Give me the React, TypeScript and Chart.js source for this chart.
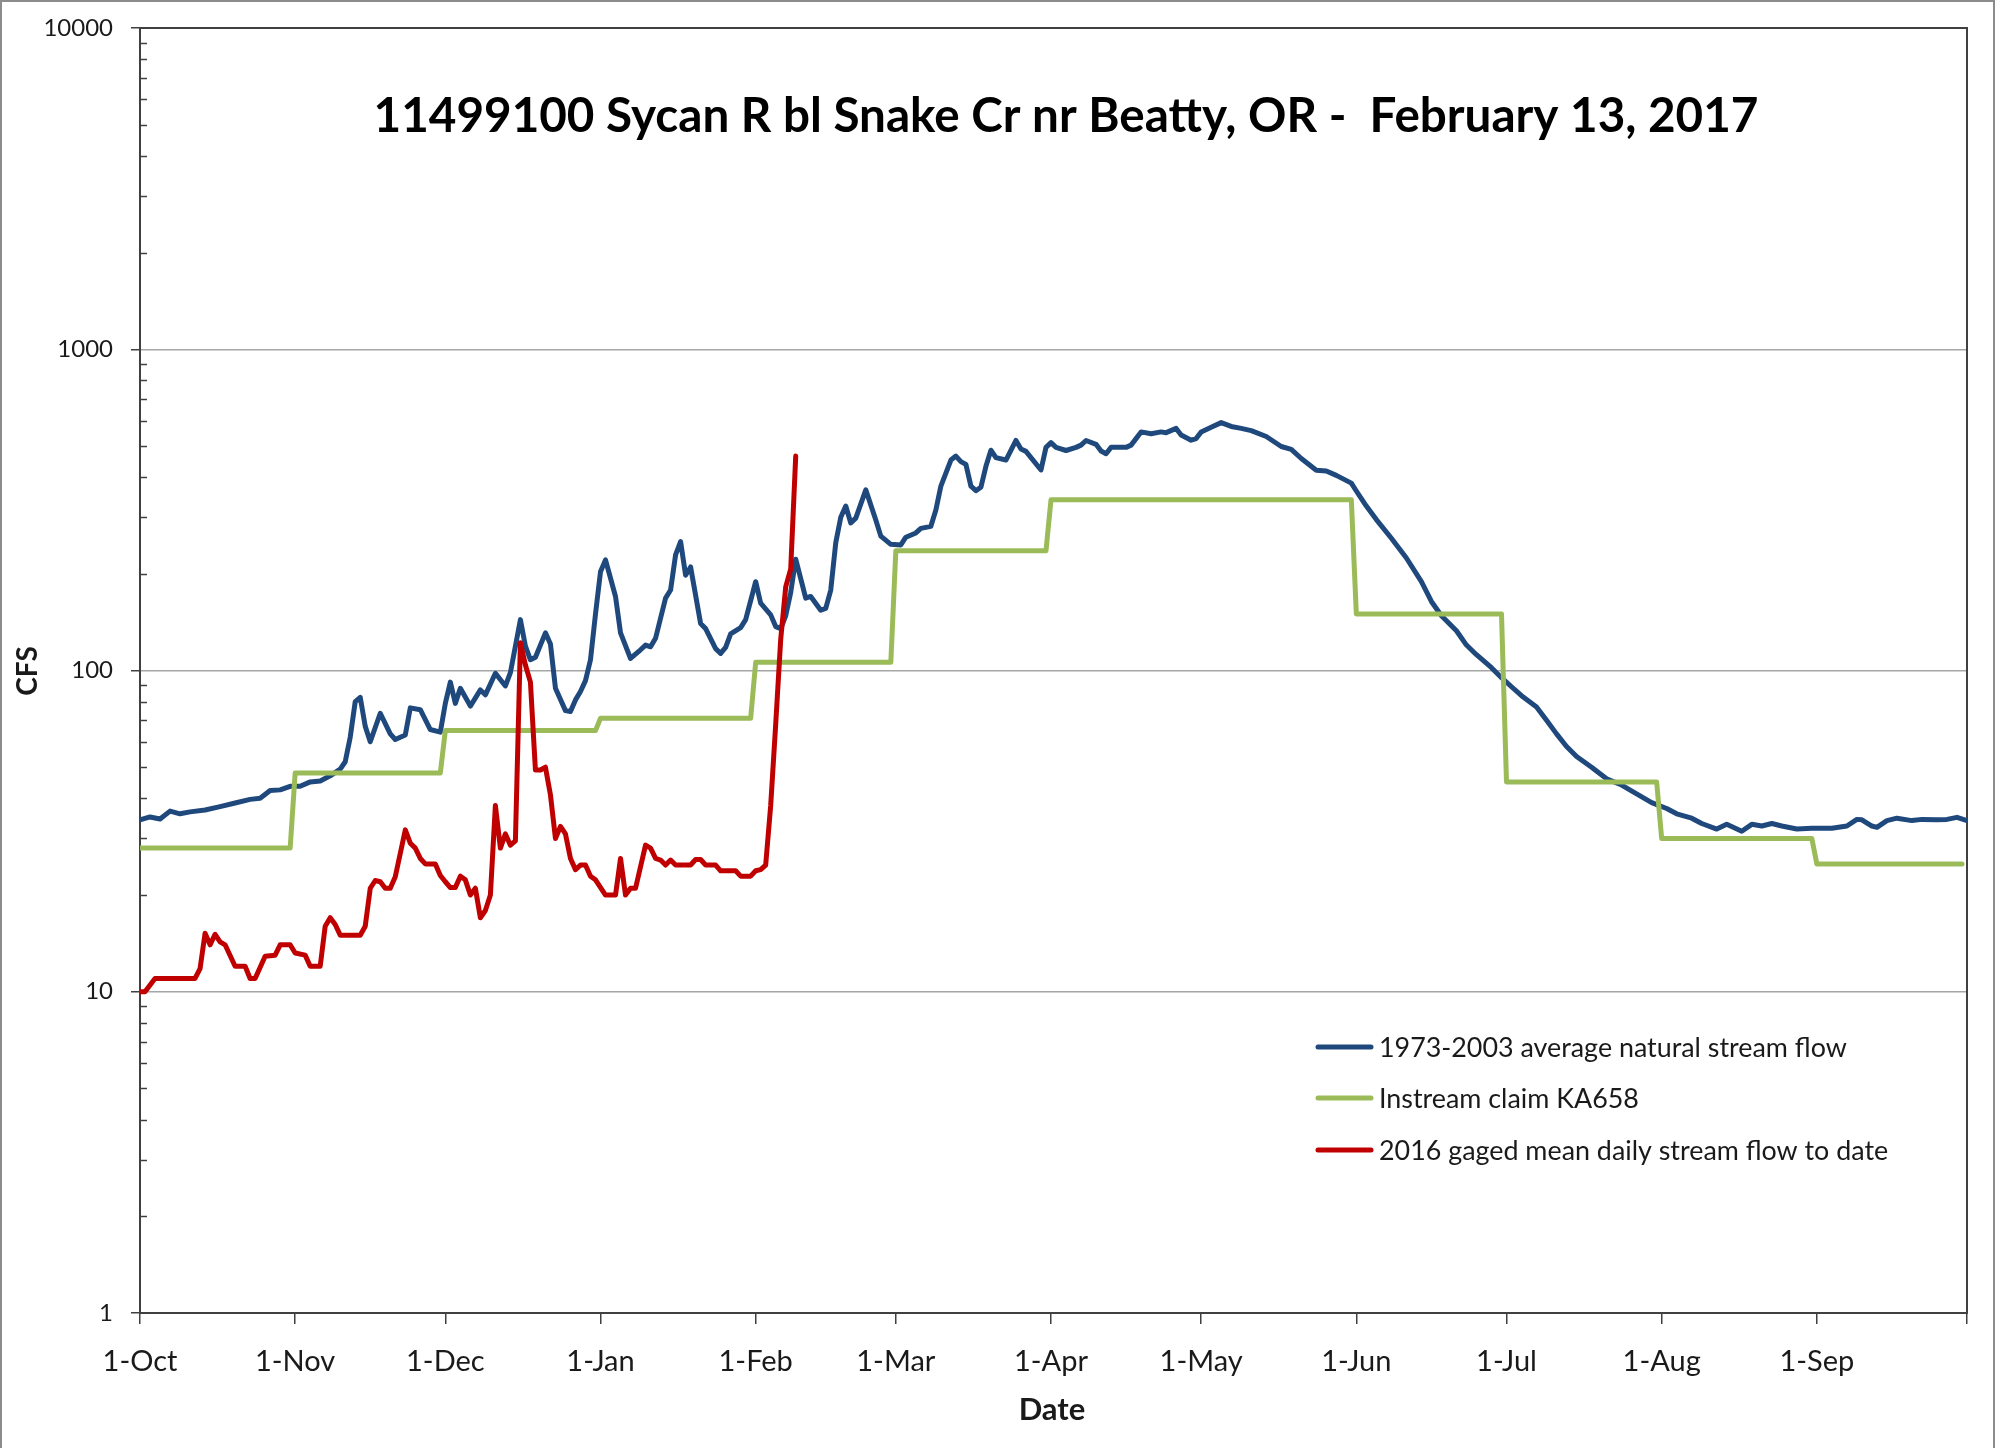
import React, { useEffect, useRef } from 'react';
import { Chart, registerables } from 'chart.js';

Chart.register(...registerables);

const TITLE = '11499100 Sycan R bl Snake Cr nr Beatty, OR -  February 13, 2017';
const X_TITLE = 'Date';
const Y_TITLE = 'CFS';

// x axis: day offset from 1-Oct
const monthTickDays = [0, 31, 61, 92, 123, 151, 182, 212, 243, 273, 304, 335, 365];
const xTickLabels = ['1-Oct', '1-Nov', '1-Dec', '1-Jan', '1-Feb', '1-Mar', '1-Apr', '1-May', '1-Jun', '1-Jul', '1-Aug', '1-Sep'];
const yMajorTicks = [1, 10, 100, 1000, 10000];
const yTickLabels = ['1', '10', '100', '1000', '10000'];

const seriesLabels = [
  '1973-2003 average natural stream flow',
  'Instream claim KA658',
  '2016 gaged mean daily stream flow to date',
];
const seriesColors = ['#1F497D', '#9BBB59', '#C00000'];

// 1973-2003 average natural stream flow
const naturalDays = [
  0, 2, 4, 6, 8, 10, 13, 16, 19, 22, 24, 26, 28, 30, 32, 34, 36, 38, 40, 41,
  42, 43, 44, 45, 46, 48, 50, 51, 53, 54, 56, 58, 60, 61, 62, 63, 64, 66, 68, 69,
  71, 73, 74, 76, 77, 78, 79, 81, 82, 83, 85, 86, 87, 88, 89, 90, 91, 92, 93, 95,
  96, 98, 100, 101, 102, 103, 105, 106, 107, 108, 109, 110, 112, 113, 115, 116, 117, 118, 120, 121,
  123, 124, 126, 127, 128, 129, 130, 131, 133, 134, 136, 137, 138, 139, 140, 141, 142, 143, 145, 147,
  148, 150, 152, 153, 155, 156, 158, 159, 160, 162, 163, 164, 165, 166, 167, 168, 169, 170, 171, 173,
  175, 176, 177, 180, 181, 182, 183, 185, 187, 188, 189, 191, 192, 193, 194, 197, 198, 200, 202, 204,
  205, 207, 208, 210, 211, 212, 214, 216, 218, 220, 222, 225, 228, 230, 232, 235, 237, 239, 242, 243,
  245, 247, 250, 253, 256, 258, 260, 263, 265, 267, 270, 272, 274, 276, 279, 281, 283, 285, 287, 290,
  293, 296, 299, 302, 305, 307, 310, 312, 315, 317, 320, 322, 324, 326, 328, 331, 334, 338, 341, 343,
  344, 346, 347, 349, 351, 354, 356, 359, 361, 363, 365,
];
const naturalCfs = [
  34.3, 35, 34.5, 36.5, 35.8, 36.3, 36.8, 37.7, 38.7, 39.7, 40, 42.3, 42.5, 43.6, 43.6, 45, 45.3, 47, 49.3, 52,
  62, 80, 82.5, 67, 60, 73.6, 63.5, 61, 63, 76.5, 75.5, 65.5, 64.3, 79, 92, 79, 88, 77.5, 87, 84,
  98, 89.5, 98.5, 144, 119, 108, 110, 131, 121, 88, 75, 74.5, 81, 86, 93, 108, 150, 203, 221, 170,
  131, 109, 116, 120, 118.5, 126, 168, 178, 229, 252, 198, 210, 140, 135, 117, 113, 118, 130, 136, 144,
  189, 162, 149, 137, 135, 148, 175, 222, 168, 170, 154, 156, 178, 250, 300, 325, 288, 298, 365, 294,
  262, 247, 246, 260, 268, 277, 281, 316, 375, 452, 465, 447, 438, 375, 363, 372, 432, 485, 460, 452,
  520, 489, 481, 421, 495, 512, 495, 484, 495, 503, 520, 506, 482, 473, 495, 495, 503, 553, 546, 553,
  550, 567, 541, 521, 527, 553, 572, 591, 575, 567, 558, 535, 498, 488, 457, 420, 418, 405, 383, 362,
  325, 295, 258, 224, 189, 164, 148, 133, 120, 112, 102, 95, 89, 83.5, 77, 70, 63.5, 58, 54, 50,
  46, 44, 41.3, 38.8, 37.2, 35.8, 34.7, 33.4, 32.1, 33.2, 31.6, 33.2, 32.8, 33.4, 32.8, 32.1, 32.3, 32.3, 32.8, 34.4,
  34.3, 32.8, 32.5, 34.1, 34.7, 34.1, 34.4, 34.3, 34.4, 34.9, 34.1,
];

// Instream claim KA658 (monthly steps)
const claimDays = [0, 30, 31, 60, 61, 91, 92, 122, 123, 150, 151, 181, 182, 242, 243, 272, 273, 303, 304, 334, 335, 364];
const claimCfs = [28, 28, 48, 48, 65, 65, 71, 71, 106, 106, 236, 236, 340, 340, 150, 150, 45, 45, 30, 30, 25, 25];

// 2016 gaged mean daily stream flow to date
const gagedDays = [
  0, 1, 3, 11, 12, 13, 14, 15, 16, 17, 19, 21, 22, 23, 25, 27, 28, 30, 31, 33,
  34, 36, 37, 38, 39, 40, 44, 45, 46, 47, 48, 49, 50, 51, 53, 54, 55, 56, 57, 59,
  60, 61, 62, 63, 64, 65, 66, 67, 68, 69, 70, 71, 72, 73, 74, 75, 76, 77, 78, 79,
  80, 81, 82, 83, 84, 85, 86, 87, 88, 89, 90, 91, 93, 95, 96, 97, 98, 99, 101, 102,
  103, 104, 105, 106, 107, 110, 111, 112, 113, 115, 116, 119, 120, 122, 123, 124, 125, 126, 127, 128,
  129, 130, 131,
];
const gagedCfs = [
  10, 10, 11, 11, 11.8, 15.2, 14, 15.1, 14.3, 14, 12, 12, 11, 11, 12.9, 13, 14, 14, 13.2, 13,
  12, 12, 16, 17, 16.2, 15, 15, 16, 21, 22.2, 22, 21, 21, 22.8, 31.9, 29, 28, 26, 25, 25,
  23, 22, 21.1, 21.1, 22.9, 22.3, 20, 21, 17, 17.9, 20, 38, 28, 31, 28.6, 29.5, 122, 104, 92, 49,
  49, 50, 41, 30, 32.7, 31, 26, 24, 24.8, 24.8, 22.9, 22.3, 20, 20, 26, 20, 21, 21, 28.6, 28,
  26, 25.7, 24.8, 25.7, 24.8, 24.8, 25.8, 25.8, 24.8, 24.8, 23.8, 23.8, 22.9, 22.9, 23.8, 24, 24.8, 38, 68, 125,
  182, 207, 465,
];

const toPoints = (xs: number[], ys: number[]) => xs.map((x, i) => ({ x, y: ys[i] }));

const allYTicks: number[] = [];
yMajorTicks.forEach((m, i) => {
  if (i < yMajorTicks.length - 1) {
    for (let k = 1; k < 10; k++) allYTicks.push(m * k);
  } else {
    allYTicks.push(m);
  }
});

const AXIS_COLOR = '#404040';
const GRID_COLOR = '#a6a6a6';
const TEXT_COLOR = '#1a1a1a';
const FONT = 'Lato';

const fitSize = (ctx: CanvasRenderingContext2D, text: string, weight: string, target: number) => {
  ctx.font = `${weight} 100px ${FONT}`;
  const w = ctx.measureText(text).width;
  return (100 * target) / w;
};

const decorPlugin = {
  id: 'decor',
  beforeDraw(chart: any) {
    const { ctx, width, height } = chart;
    ctx.save();
    ctx.fillStyle = '#ffffff';
    ctx.fillRect(0, 0, width, height);
    ctx.strokeStyle = '#8c8c8c';
    ctx.lineWidth = 2;
    ctx.beginPath();
    ctx.moveTo(1, height + 5);
    ctx.lineTo(1, 1);
    ctx.lineTo(width - 1, 1);
    ctx.lineTo(width - 1, height + 5);
    ctx.stroke();
    ctx.restore();
  },
  beforeDatasetsDraw(chart: any) {
    const { ctx, chartArea } = chart;
    const ys = chart.scales.y;
    ctx.save();
    ctx.strokeStyle = AXIS_COLOR;
    ctx.lineWidth = 1.5;
    ctx.beginPath();
    ys.ticks.forEach((t: any) => {
      if (yMajorTicks.includes(t.value)) return;
      const py = Math.round(ys.getPixelForValue(t.value)) + 0.5;
      ctx.moveTo(chartArea.left, py);
      ctx.lineTo(chartArea.left + 7, py);
    });
    ctx.stroke();
    ctx.lineWidth = 2;
    ctx.strokeRect(chartArea.left, chartArea.top, chartArea.right - chartArea.left, chartArea.bottom - chartArea.top);
    ctx.restore();
  },
  afterDatasetsDraw(chart: any) {
    const { ctx } = chart;
    ctx.save();
    // title
    const ts = fitSize(ctx, TITLE, 'bold', 1385);
    ctx.font = `bold ${ts}px ${FONT}`;
    ctx.fillStyle = '#000000';
    ctx.textAlign = 'center';
    ctx.textBaseline = 'alphabetic';
    ctx.fillText(TITLE, 1066, 132);

    // axis titles
    ctx.font = `bold 31px ${FONT}`;
    ctx.fillStyle = TEXT_COLOR;
    ctx.textBaseline = 'middle';
    ctx.fillText(X_TITLE, 1052, 1410);
    ctx.save();
    ctx.translate(28, 671);
    ctx.rotate(-Math.PI / 2);
    ctx.font = `bold 28px ${FONT}`;
    ctx.fillText(Y_TITLE, 0, 0);
    ctx.restore();

    // legend
    const ls = fitSize(ctx, seriesLabels[0], 'normal', 468);
    const rows = [1047, 1098, 1150];
    chart.data.datasets.forEach((ds: any, i: number) => {
      const y = rows[i];
      ctx.strokeStyle = ds.borderColor;
      ctx.lineWidth = 5;
      ctx.lineCap = 'round';
      ctx.beginPath();
      ctx.moveTo(1318, y);
      ctx.lineTo(1371, y);
      ctx.stroke();
      ctx.font = `normal ${ls}px ${FONT}`;
      ctx.fillStyle = TEXT_COLOR;
      ctx.textAlign = 'left';
      ctx.textBaseline = 'middle';
      ctx.fillText(ds.label, 1379, y + 1);
    });
    ctx.restore();
  },
};

export default function App() {
  const canvasRef = useRef<HTMLCanvasElement | null>(null);

  useEffect(() => {
    if (!canvasRef.current) return;
    const lineStyle = {
      pointRadius: 0,
      borderWidth: 5,
      tension: 0,
      fill: false,
      borderJoinStyle: 'round' as const,
      borderCapStyle: 'round' as const,
    };
    const chart = new Chart(canvasRef.current, {
      type: 'line',
      data: {
        datasets: [
          { label: seriesLabels[0], data: toPoints(naturalDays, naturalCfs), borderColor: seriesColors[0], order: 2, ...lineStyle },
          { label: seriesLabels[1], data: toPoints(claimDays, claimCfs), borderColor: seriesColors[1], order: 1, ...lineStyle },
          { label: seriesLabels[2], data: toPoints(gagedDays, gagedCfs), borderColor: seriesColors[2], order: 0, ...lineStyle },
        ],
      },
      options: {
        responsive: false,
        maintainAspectRatio: false,
        devicePixelRatio: 1,
        animation: false,
        events: [],
        layout: { padding: { top: 28, right: 28, left: 0, bottom: 0 } },
        plugins: {
          legend: { display: false },
          title: { display: false },
          tooltip: { enabled: false },
        },
        scales: {
          x: {
            type: 'linear',
            min: 0,
            max: 365,
            afterBuildTicks: (scale: any) => {
              scale.ticks = monthTickDays.map((v) => ({ value: v }));
            },
            afterFit: (scale: any) => {
              scale.height = 135;
              scale.paddingLeft = 0;
              scale.paddingRight = 0;
            },
            ticks: {
              autoSkip: false,
              maxRotation: 0,
              minRotation: 0,
              padding: 20,
              color: TEXT_COLOR,
              font: { family: FONT, size: 29 },
              callback: (_v: any, i: number) => xTickLabels[i] ?? '',
            },
            grid: {
              drawOnChartArea: false,
              drawTicks: true,
              tickLength: 11,
              color: AXIS_COLOR,
              lineWidth: 1.5,
            },
            border: { display: true, color: AXIS_COLOR, width: 2 },
          },
          y: {
            type: 'logarithmic',
            min: 1,
            max: 10000,
            afterBuildTicks: (scale: any) => {
              scale.ticks = allYTicks.map((v) => ({ value: v, major: yMajorTicks.includes(v) }));
            },
            afterFit: (scale: any) => {
              scale.width = 140;
              scale.paddingTop = 0;
              scale.paddingBottom = 0;
            },
            ticks: {
              autoSkip: false,
              padding: 18,
              color: TEXT_COLOR,
              font: { family: FONT, size: 24 },
              callback: (v: any) => {
                const idx = yMajorTicks.indexOf(Number(v));
                return idx >= 0 ? yTickLabels[idx] : '';
              },
            },
            grid: {
              drawTicks: true,
              tickLength: 9,
              lineWidth: 1.5,
              color: (c: any) => ([10, 100, 1000].includes(c.tick?.value) ? GRID_COLOR : 'rgba(0,0,0,0)'),
              tickColor: (c: any) => (yMajorTicks.includes(c.tick?.value) ? AXIS_COLOR : 'rgba(0,0,0,0)'),
            },
            border: { display: true, color: AXIS_COLOR, width: 2 },
          },
        },
      },
      plugins: [decorPlugin],
    } as any);
    return () => chart.destroy();
  }, []);

  return (
    <div style={{ position: 'absolute', left: 0, top: 0, width: 1995, height: 1448, background: '#fff' }}>
      <canvas ref={canvasRef} width={1995} height={1448} style={{ display: 'block' }} />
    </div>
  );
}
